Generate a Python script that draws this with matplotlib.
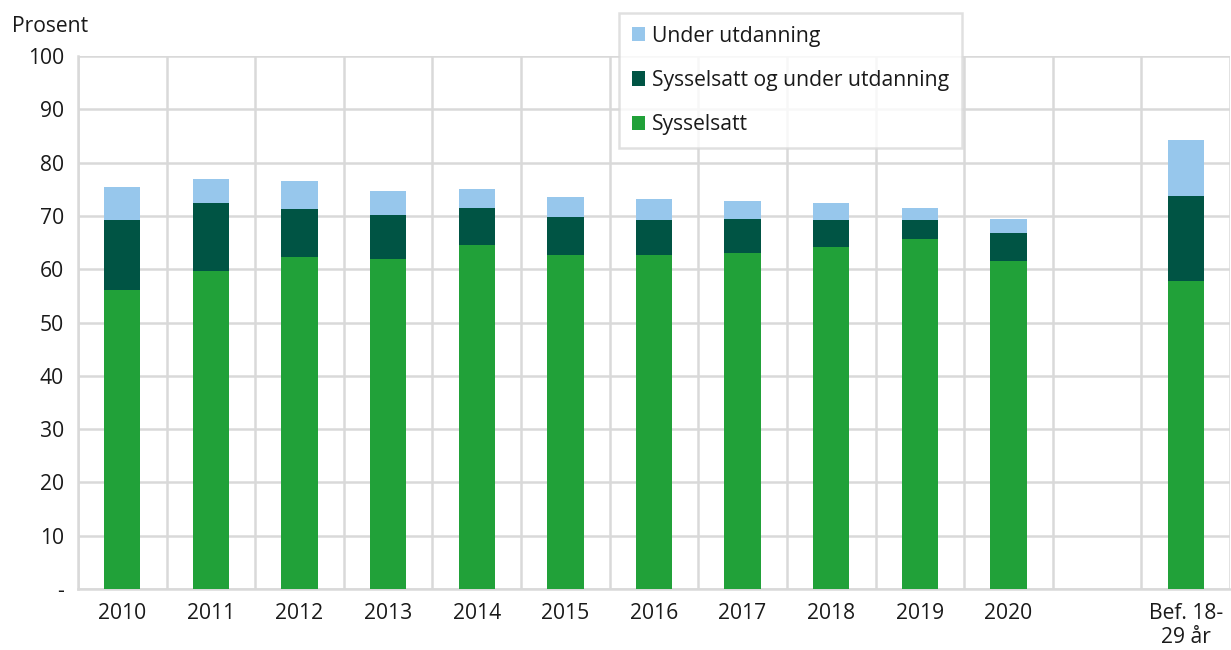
import matplotlib
matplotlib.use("Agg")
import matplotlib.pyplot as plt
import numpy as np

plt.rcParams["font.family"] = ["Open Sans", "DejaVu Sans"]
FS = 15.2
plt.rcParams["font.size"] = FS

categories = ["2010", "2011", "2012", "2013", "2014", "2015", "2016",
              "2017", "2018", "2019", "2020", "", "Bef. 18-\n29 år"]

# cumulative tops (NaN = empty slot)
sysselsatt = [56.1, 59.6, 62.3, 61.9, 64.5, 62.6, 62.7, 63.0, 64.2, 65.7, 61.5, np.nan, 57.8]
top_dark = [69.2, 72.5, 71.3, 70.2, 71.5, 69.85, 69.2, 69.5, 69.2, 69.2, 66.7, np.nan, 73.7]
top_total = [75.4, 76.9, 76.5, 74.6, 75.0, 73.5, 73.2, 72.8, 72.4, 71.5, 69.4, np.nan, 84.2]

syss = np.array(sysselsatt)
begge = np.array(top_dark) - syss
utd = np.array(top_total) - np.array(top_dark)

GREEN = "#21A139"
DARK = "#005444"
LIGHT = "#97C7EC"
GRID = "#d9d9d9"
TXT = "#1a1a1a"

fig = plt.figure(figsize=(12.31, 6.5), dpi=100)
ax = fig.add_axes([78 / 1231, 1 - 589 / 650, 1 - 78 / 1231 - 0.0008, (589 - 56) / 650])

x = np.arange(len(categories))
w = 0.41
b1 = ax.bar(x, syss, w, color=GREEN, label="Sysselsatt", zorder=3)
b2 = ax.bar(x, begge, w, bottom=syss, color=DARK, label="Sysselsatt og under utdanning", zorder=3)
b3 = ax.bar(x, utd, w, bottom=np.array(top_dark), color=LIGHT, label="Under utdanning", zorder=3)

ax.set_xlim(-0.5, len(categories) - 0.5)
ax.set_ylim(0, 100)
ax.set_yticks(range(0, 101, 10))
ax.set_yticklabels(["-"] + [str(v) for v in range(10, 101, 10)])
ax.set_xticks(x)
ax.set_xticklabels(categories)
ax.tick_params(length=0, colors=TXT, labelsize=FS)
ax.tick_params(axis="x", pad=10)
ax.tick_params(axis="y", pad=10)

ax.grid(axis="y", color=GRID, linewidth=1.8, zorder=0)
ax.set_xticks(np.arange(-0.5, len(categories), 1), minor=True)
ax.grid(axis="x", which="minor", color=GRID, linewidth=1.8, zorder=0)
ax.tick_params(axis="x", which="minor", length=0)
for s in ax.spines.values():
    s.set_visible(False)
for side in ("left", "bottom"):
    ax.spines[side].set_visible(True)
    ax.spines[side].set_color(GRID)
    ax.spines[side].set_linewidth(1.8)

fig.text(12 / 1231, 1 - 27 / 650, "Prosent", fontsize=FS, va="center", ha="left", color=TXT)

leg = fig.legend([b3, b2, b1],
                 ["Under utdanning", "Sysselsatt og under utdanning", "Sysselsatt"],
                 loc="upper left", bbox_to_anchor=(619 / 1231, 1 - 13 / 650),
                 fontsize=FS, frameon=True, fancybox=False, edgecolor=GRID,
                 handlelength=0.65, handleheight=0.65, handletextpad=0.3,
                 labelspacing=1.1, borderpad=0.6, borderaxespad=0)
leg.get_frame().set_linewidth(1.8)
for t in leg.get_texts():
    t.set_color(TXT)

fig.savefig("out.png", dpi=100)
